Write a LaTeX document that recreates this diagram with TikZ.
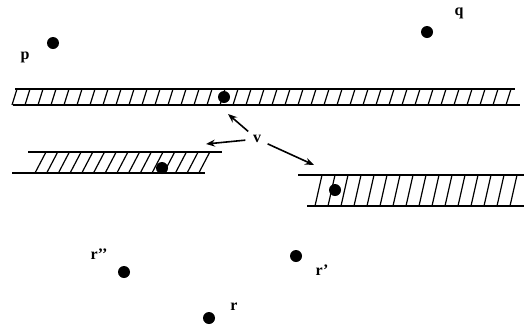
\documentclass[tikz,border=0pt]{standalone}
\usepackage{fontspec}
\setmainfont{Liberation Serif}
\usetikzlibrary{arrows.meta}
\begin{document}
\begin{tikzpicture}[x=1pt,y=-1pt, line width=1.3pt,
  dot/.style={circle,fill=black,inner sep=0pt,minimum size=12pt},
  lbl/.style={font=\bfseries\fontsize{16}{16}\selectfont,inner sep=0pt},
  hatch/.style={line width=1.2pt},
  arr/.style={-{Stealth[length=9pt,width=7pt]},line width=1.6pt}]
\useasboundingbox (0,0) rectangle (524,333);
% top strip
\draw (15,89) -- (515,89);
\draw (13,105) -- (520,105);
\foreach \i in {0,...,38} \draw[hatch] ({12+13*\i},105) -- ({17+13*\i},89);
% middle-left strip
\draw (28,152) -- (222,152);
\draw (12,173) -- (205,173);
\foreach \i in {0,...,14} \draw[hatch] ({35+11.7*\i},173) -- ({46+11.7*\i},152);
% right strip
\draw (298,175) -- (524,175);
\draw (307,206) -- (524,206);
\foreach \i in {0,...,15} \draw[hatch] ({315+13*\i},206) -- ({322+13*\i},175);
% dots
\node[dot] (p) at (53,43) {};
\node[lbl] (pl) at (25,57) {p};
\node[dot] (q) at (427,32) {};
\node[lbl] (ql) at (459,13) {q};
\node[dot] (v1) at (224,97) {};
\node[dot] (v2) at (162,168) {};
\node[dot] (v3) at (335,190) {};
\node[dot] (r2) at (124,272) {};
\node[lbl] (r2l) at (99,254) {r’’};
\node[dot] (r1) at (296,256) {};
\node[lbl] (r1l) at (322,270) {r’};
\node[dot] (r) at (209,318) {};
\node[lbl] (rl) at (234,307) {r};
% v and arrows
\node[lbl,circle,minimum size=22pt] (v) at (257,139) {v};
\coordinate (a1) at (228,114);
\coordinate (a2) at (206,144);
\coordinate (a3) at (314,165);
\draw[arr] (v) -- (a1);
\draw[arr] (v) -- (a2);
\draw[arr] (v) -- (a3);
\end{tikzpicture}
\end{document}
